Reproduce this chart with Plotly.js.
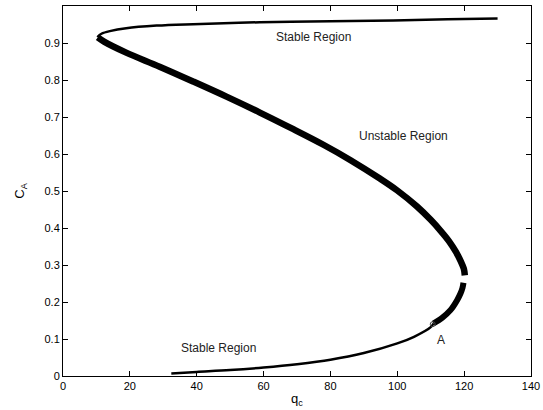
<!DOCTYPE html>
<html>
<head>
<meta charset="utf-8">
<script src="https://cdn.plot.ly/plotly-3.0.1.min.js"></script>
<style>html,body{margin:0;padding:0;background:#fff;}#plot{width:543px;height:410px;}</style>
</head>
<body>
<div id="plot"></div>
<script>
// Upper stable branch
const upperX = [130, 115, 98.8, 80, 58.9, 38.9, 28, 18.9, 14, 11.5, 10.6, 10.4];
const upperY = [0.966, 0.964, 0.961, 0.959, 0.956, 0.951, 0.947, 0.940, 0.932, 0.925, 0.919, 0.915];
// Middle unstable branch
const midX = [10.4, 12.4, 18.9, 28.9, 38.9, 48.9, 58.9, 68.9, 77.9, 85.9, 94.9, 99.9, 105.9, 110, 112.9, 115.5, 117.5, 119, 119.9, 120.2];
const midY = [0.915, 0.903, 0.874, 0.836, 0.796, 0.755, 0.712, 0.667, 0.625, 0.584, 0.533, 0.502, 0.458, 0.422, 0.393, 0.364, 0.336, 0.310, 0.290, 0.272];
// Lower branch, thick part near the turning point
const lowTipX = [119.8, 119.5, 118.9, 117.9, 115.9, 113.5, 110.8];
const lowTipY = [0.252, 0.238, 0.223, 0.205, 0.178, 0.158, 0.142];
// Lower stable branch
const lowX = [110.8, 110, 105, 100, 90, 80, 70, 60, 50, 40, 32.4];
const lowY = [0.142, 0.132, 0.106, 0.088, 0.062, 0.044, 0.032, 0.023, 0.016, 0.011, 0.007];
// Point A
const ptAX = [110.6];
const ptAY = [0.140];

const texts = [
  {x: 74.8, y: 0.915, t: 'Stable Region'},
  {x: 101.9, y: 0.648, t: 'Unstable Region'},
  {x: 46.5, y: 0.076, t: 'Stable Region'},
  {x: 113.1, y: 0.098, t: 'A'}
];

const traces = [
  {x: upperX, y: upperY, mode: 'lines', line: {color: '#000', width: 2.5, shape: 'spline'}},
  {x: midX, y: midY, mode: 'lines', line: {color: '#000', width: 6.5, shape: 'spline'}},
  {x: lowTipX, y: lowTipY, mode: 'lines', line: {color: '#000', width: 6, shape: 'spline'}},
  {x: lowX, y: lowY, mode: 'lines', line: {color: '#000', width: 2.5, shape: 'spline'}},
  {x: ptAX, y: ptAY, mode: 'markers', marker: {symbol: 'circle-open', size: 5, color: '#444', line: {width: 1}}}
];

const layout = {
  width: 543, height: 410,
  margin: {l: 63, r: 12, t: 6, b: 34},
  showlegend: false,
  paper_bgcolor: '#fff', plot_bgcolor: '#fff',
  font: {family: 'Liberation Sans, Arial, sans-serif', size: 11, color: '#000'},
  xaxis: {
    range: [0, 140], dtick: 20, tick0: 0,
    ticks: 'inside', ticklen: 5, tickcolor: '#000',
    showline: true, linecolor: '#000', linewidth: 1, mirror: 'ticks',
    showgrid: false, zeroline: false,
    title: {text: 'q<sub>c</sub>', font: {size: 13}, standoff: 2}
  },
  yaxis: {
    range: [0, 1], dtick: 0.1, tick0: 0,
    ticks: 'inside', ticklen: 5, tickcolor: '#000',
    showline: true, linecolor: '#000', linewidth: 1, mirror: 'ticks',
    showgrid: false, zeroline: false,
    title: {text: 'C<sub>A</sub>', font: {size: 13}, standoff: 16}
  },
  annotations: texts.map(o => ({x: o.x, y: o.y, text: o.t, showarrow: false, xref: 'x', yref: 'y', font: {size: 12, color: '#222'}}))
};

Plotly.newPlot('plot', traces, layout, {displayModeBar: false, staticPlot: true});
</script>
</body>
</html>
